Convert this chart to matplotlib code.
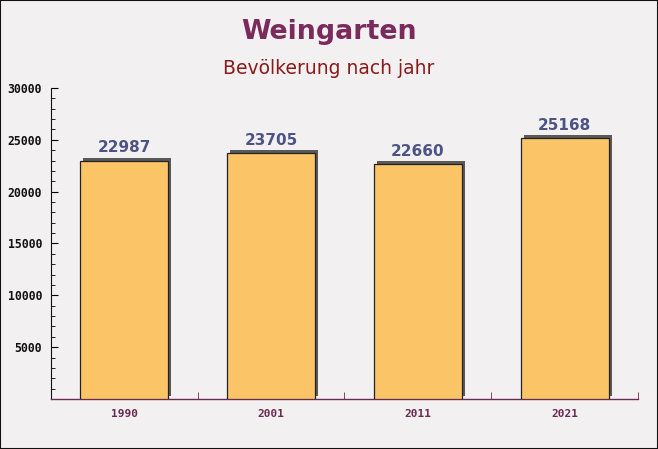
import matplotlib
matplotlib.use("Agg")
import matplotlib.pyplot as plt
from matplotlib.transforms import offset_copy
from matplotlib.ticker import MultipleLocator

years = ["1990", "2001", "2011", "2021"]
population = [22987, 23705, 22660, 25168]
yticks = [5000, 10000, 15000, 20000, 25000, 30000]

bg = "#f3f0f2"
fig = plt.figure(figsize=(6.58, 4.49), dpi=100, facecolor=bg)
ax = fig.add_axes([0.0775, 0.1114, 0.892, 0.6926])
ax.set_facecolor("none")

x = list(range(len(years)))
shadow_tr = offset_copy(ax.transData, fig=fig, x=3, y=3, units="dots")
ax.bar(x, population, width=0.6, color="#5a5a5a", transform=shadow_tr, zorder=2)
ax.bar(x, population, width=0.6, color="#fbc567", edgecolor="#222222", linewidth=0.9, zorder=3)

for xi, v in zip(x, population):
    ax.annotate(str(v), (xi, v), xytext=(0, 4), textcoords="offset points",
                ha="center", va="bottom", fontsize=11, fontweight="bold",
                color="#4d5485", zorder=4)

ax.set_xlim(-0.5, len(years) - 0.5)
ax.set_ylim(0, 30000)
ax.set_xticks(x)
ax.set_xticklabels(years, fontfamily="DejaVu Sans Mono", fontweight="bold",
                   fontsize=8, color="#6b2a50")
ax.set_xticks([0.5, 1.5, 2.5, 3.5], minor=True)
ax.tick_params(axis="x", which="major", length=0, pad=7)
ax.tick_params(axis="x", which="minor", length=5, direction="in", color="#6b2a50")

ax.set_yticks(yticks)
ax.set_yticklabels([str(t) for t in yticks], fontfamily="DejaVu Sans Mono",
                   fontweight="bold", fontsize=8.3, color="#111111")
ax.yaxis.set_minor_locator(MultipleLocator(1000))
ax.tick_params(axis="y", which="major", length=5, direction="in", pad=6.5)
ax.tick_params(axis="y", which="minor", length=3, direction="in")

for s in ["top", "right"]:
    ax.spines[s].set_visible(False)
ax.spines["left"].set_color("#111111")
ax.spines["bottom"].set_color("#6b2a50")
ax.spines["bottom"].set_linewidth(1.0)

fig.text(0.5, 1 - 32 / 449, "Weingarten", ha="center", va="center",
         fontsize=19.3, fontweight="bold", color="#7b2a5c")
fig.text(0.5, 1 - 68 / 449, "Bevölkerung nach jahr", ha="center", va="center",
         fontsize=13.5, color="#8b1a1a")

border = plt.Rectangle((0, 0), 1, 1, transform=fig.transFigure, fill=False,
                       edgecolor="#111111", linewidth=1.5)
fig.patches.append(border)

fig.savefig("out.png", dpi=100, facecolor=bg)
